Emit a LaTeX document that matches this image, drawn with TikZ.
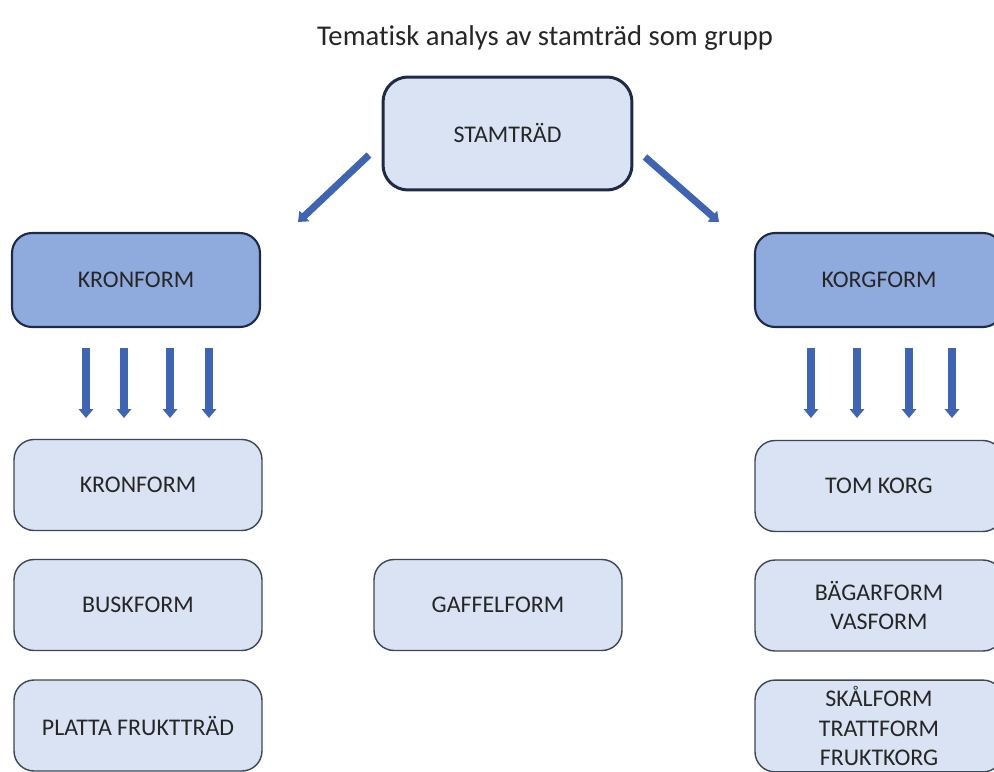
\documentclass[tikz,border=0pt]{standalone}
\usepackage{fontspec}
\setmainfont{Carlito}[Ligatures=NoCommon]
\usetikzlibrary{arrows.meta,positioning}
\definecolor{boxfill}{HTML}{DAE3F3}
\definecolor{midfill}{HTML}{8FAADC}
\definecolor{rim}{HTML}{3B4656}
\definecolor{navy}{HTML}{1F2B46}
\definecolor{pilblue}{HTML}{3E64B2}
\begin{document}
\begin{tikzpicture}[x=0.02cm,y=-0.02cm,
  ruta/.style={draw=rim,line width=0.8pt,fill=boxfill,rounded corners=0.4cm,minimum width=4.96cm,minimum height=1.82cm,align=center,text=black!85,font=\fontsize{13.6}{17}\selectfont},
  huvud/.style={ruta,draw=navy,line width=1.2pt,fill=midfill,minimum height=1.88cm},
  pil/.style={draw=pilblue,line width=4pt,-{Triangle[width=8pt,length=5pt]}}]
\clip (0,0) rectangle (994,771);
\node[text=black!85,font=\fontsize{16.3}{19}\selectfont] (rubrik) at (545,38) {Tematisk analys av stamträd som grupp};
\node[ruta,draw=navy,line width=1.7pt,rounded corners=0.5cm,minimum width=4.98cm,minimum height=2.26cm] (stam) at (507.5,133.5) {STAMTRÄD};
\node[huvud] (kron) at (136,280) {KRONFORM};
\node[huvud] (korg) at (879,280) {KORGFORM};
\node[ruta] (kron2) at (138,485) {KRONFORM};
\node[ruta] (busk) at (138,605) {BUSKFORM};
\node[ruta] (platta) at (138,725.5) {PLATTA FRUKTTRÄD};
\node[ruta] (gaffel) at (498,605) {GAFFELFORM};
\node[ruta] (tom) at (879,486) {TOM KORG};
\node[ruta] (bagar) at (879,605.5) {BÄGARFORM\\VASFORM};
\node[ruta] (skal) at (879,726) {SKÅLFORM\\TRATTFORM\\FRUKTKORG};
\coordinate (v1) at (369,155);
\coordinate (v2) at (298,222);
\coordinate (h1) at (645,157);
\coordinate (h2) at (719,222);
\draw[pil] (v1) -- (v2);
\draw[pil] (h1) -- (h2);
\foreach \x [count=\i] in {86,124,170,209}{
  \coordinate (a\i) at (\x,348);
  \coordinate (b\i) at (\x,418);
  \draw[pil] (a\i) -- (b\i);
}
\foreach \x [count=\i] in {811,857,909,952}{
  \coordinate (c\i) at (\x,348);
  \coordinate (d\i) at (\x,418);
  \draw[pil] (c\i) -- (d\i);
}
\end{tikzpicture}
\end{document}
